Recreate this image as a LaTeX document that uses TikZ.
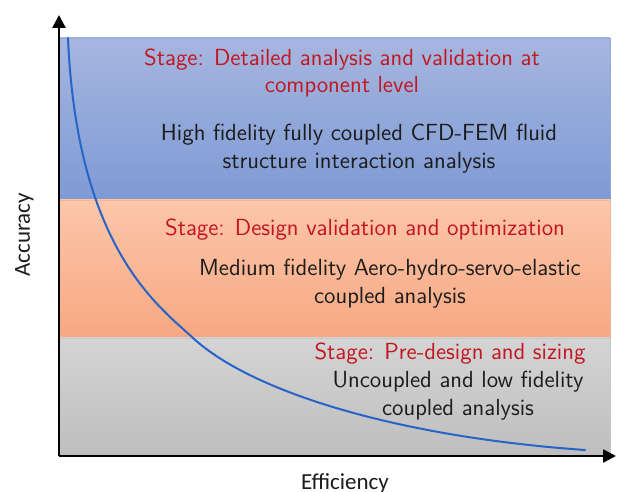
\documentclass[tikz,border=0pt]{standalone}
\usepackage{fontspec}
\newfontfamily\axisfont{Carlito}
\usetikzlibrary{arrows.meta}

\definecolor{bandBlueTop}{RGB}{166,182,223}
\definecolor{bandBlueBot}{RGB}{126,154,213}
\definecolor{bandOrangeTop}{RGB}{252,198,170}
\definecolor{bandOrangeBot}{RGB}{247,168,130}
\definecolor{bandGrayTop}{RGB}{212,212,212}
\definecolor{bandGrayBot}{RGB}{190,190,190}
\definecolor{stageRed}{RGB}{195,22,32}
\definecolor{bodyInk}{RGB}{28,28,28}
\definecolor{curveBlue}{RGB}{38,100,200}

\tikzset{
  band/.style={draw=#1Bot!85!white, line width=0.3pt, top color=#1Top, bottom color=#1Bot},
  stagetext/.style={font=\sffamily\fontsize{11.65}{13.9}\selectfont, text=stageRed, align=center, inner sep=0pt},
  bodytext/.style={font=\sffamily\fontsize{11.65}{13.9}\selectfont, text=bodyInk, align=center, inner sep=0pt},
  axislabel/.style={font=\axisfont\fontsize{11.5}{13.8}\selectfont, text=bodyInk, inner sep=0pt},
  axisline/.style={line width=1.25pt, -{Triangle[length=6.5pt,width=6.5pt]}},
}

\begin{document}
\begin{tikzpicture}[x=0.5pt,y=-0.5pt]
\useasboundingbox (0,0) rectangle (617,492);

% stacked stage bands
\path[band=bandBlue]   (59,38)  rectangle (610,200);
\path[band=bandOrange] (59,200) rectangle (610,338);
\path[band=bandGray]   (59,338) rectangle (610,456);

% accuracy / efficiency trade-off curve
\coordinate (c0) at (68,38);
\coordinate (c1) at (193,338);
\coordinate (c2) at (585,450);
\draw[curveBlue, line width=1pt, line cap=round]
  (c0) .. controls (77,250) and (160,307) .. (c1)
       .. controls (253,393) and (400,437) .. (c2);

% axes
\coordinate (origin) at (59,456);
\coordinate (ytip) at (59,15);
\coordinate (xtip) at (616,456);
\draw[axisline] (origin) -- (ytip);
\draw[axisline] (origin) -- (xtip);

\node[axislabel, anchor=base, rotate=90] (acc) at (30,235) {Accuracy};
\node[axislabel, anchor=base] (eff) at (345,489) {Efficiency};

% stage captions and descriptions
\node[stagetext] (s1) at (342,73) {Stage: Detailed analysis and validation at\\component level};
\node[bodytext]  (b1) at (359,149) {High fidelity fully coupled CFD-FEM fluid\\structure interaction analysis};

\node[stagetext, anchor=base] (s2) at (365,235) {Stage: Design validation and optimization};
\node[bodytext]  (b2) at (390,284) {Medium fidelity Aero-hydro-servo-elastic\\coupled analysis};

\node[stagetext, anchor=base] (s3) at (450,359) {Stage: Pre-design and sizing};
\node[bodytext]  (b3) at (458,395.5) {Uncoupled and low fidelity\\coupled analysis};
\end{tikzpicture}
\end{document}
